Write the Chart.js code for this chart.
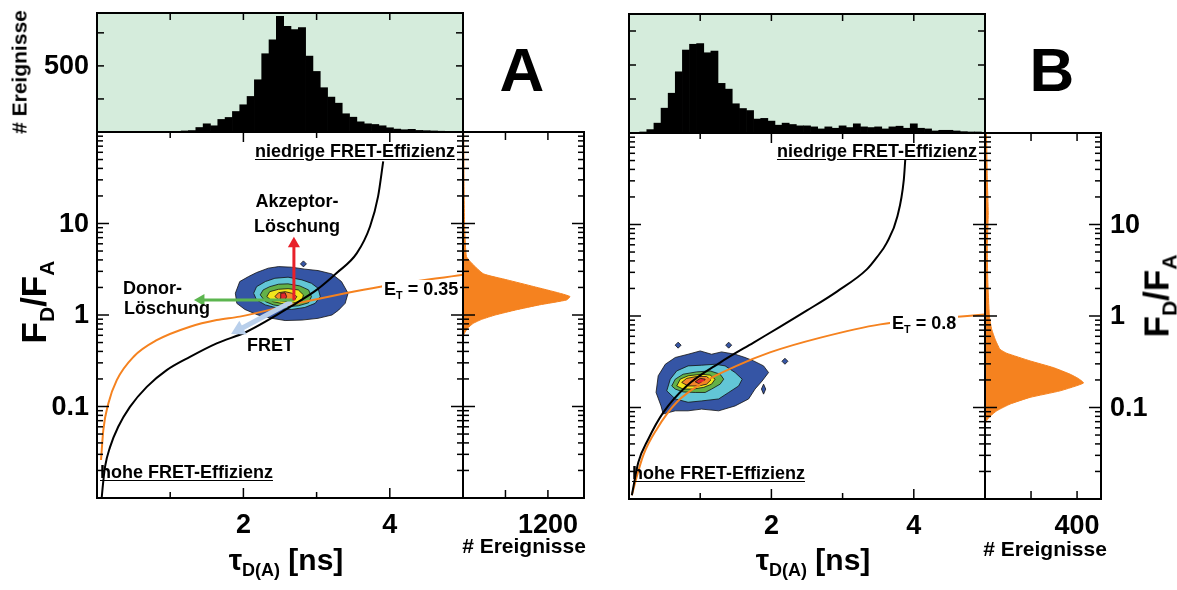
<!DOCTYPE html>
<html>
<head>
<meta charset="utf-8">
<script src="https://cdn.jsdelivr.net/npm/chart.js@4.4.1/dist/chart.umd.min.js"></script>
<style>
  html, body { margin: 0; padding: 0; background: #fff; }
  #page { position: relative; width: 1177px; height: 590px; overflow: hidden;
          font-family: "Liberation Sans", Arial, sans-serif; font-weight: bold; color: #000; }
  #page canvas { position: absolute; left: 0; top: 0; }
  .t { position: absolute; white-space: nowrap; line-height: 1; }
  .sub { font-size: 0.6em; position: relative; top: 0.38em; }
  .u { text-decoration: underline; text-underline-offset: 2px; }
  .wb { background: #fff; padding: 0 2px; }
</style>
</head>
<body>
<div id="page">
  <canvas id="topA" width="1177" height="590"></canvas>
  <canvas id="mainA" width="1177" height="590"></canvas>
  <canvas id="sideA" width="1177" height="590"></canvas>
  <canvas id="topB" width="1177" height="590"></canvas>
  <canvas id="mainB" width="1177" height="590"></canvas>
  <canvas id="sideB" width="1177" height="590"></canvas>
</div>
<script>
// ---- lifetime histograms (bin centres in ns, events per bin) ----
const tauBins = [0.0, 0.1, 0.2, 0.3, 0.4, 0.5, 0.6, 0.7, 0.8, 0.9, 1.0, 1.1, 1.2, 1.3, 1.4, 1.5, 1.6, 1.7,
  1.8, 1.9, 2.0, 2.1, 2.2, 2.3, 2.4, 2.5, 2.6, 2.7, 2.8, 2.9, 3.0, 3.1, 3.2, 3.3, 3.4, 3.5, 3.6, 3.7, 3.8,
  3.9, 4.0, 4.1, 4.2, 4.3, 4.4, 4.5, 4.6, 4.7, 4.8, 4.9, 5.0];
const tauCountsA = [0, 0, 0, 0, 0, 0, 0, 0, 0, 1, 2, 3, 8, 11, 34, 62, 47, 95, 110, 155, 206, 269, 395, 592,
  698, 875, 799, 774, 789, 574, 458, 335, 264, 218, 138, 112, 77, 62, 57, 47, 32, 22, 17, 20, 12, 10, 8, 6, 5, 4, 3];
const tauCountsB = [0, 2, 3, 10, 29, 73, 117, 180, 244, 261, 263, 236, 241, 146, 129, 86, 72, 66, 41, 43, 35,
  23, 29, 25, 21, 21, 18, 12, 18, 14, 21, 16, 27, 18, 16, 18, 12, 18, 20, 14, 27, 14, 12, 6, 8, 8, 6, 4, 3, 3, 2];

// ---- F_D/F_A histograms on the right (outline: ratio, events) ----
const ratioProfileA = [100, 100, 30, 8.6, 4.37, 3.70, 2.82, 2.42, 2.05, 1.73, 1.59, 1.46, 1.29, 1.135, 1.0,
  0.896, 0.81, 0.713, 0.618, 0.555];
const eventsProfileA = [0, 10, 14, 24, 48, 120, 288, 624, 994, 1368, 1512, 1464, 1080, 744, 456, 264, 144, 62, 14, 0];
const ratioProfileB = [100, 100, 31, 13.4, 5.8, 2.5, 1.0, 0.716, 0.557, 0.433, 0.392, 0.323, 0.273, 0.231,
  0.207, 0.185, 0.152, 0.129, 0.109, 0.092, 0.080, 0.072, 0.066];
const eventsProfileB = [0, 6, 10, 14, 10, 12, 19, 29, 44, 65, 94, 196, 297, 370, 406, 428, 326, 196, 109, 51, 22, 7, 0];

// ---- static FRET line and E_T line ----
const fretTauA = [0.064, 0.078, 0.11, 0.178, 0.29, 0.45, 0.68, 0.952, 1.27, 1.635, 2.045, 2.73, 3.0, 3.27, 3.55, 3.73, 3.84, 3.91];
const fretRatioA = [0.01, 0.0132, 0.022, 0.036, 0.060, 0.099, 0.164, 0.25, 0.349, 0.49, 0.656, 1.36, 1.88, 2.86, 4.74, 9.27, 19.8, 47.8];
const etTauA = [0.055, 0.086, 0.155, 0.27, 0.50, 0.815, 1.27, 1.635, 1.95, 2.73, 3.87, 5.0];
const etRatioA = [0.026, 0.055, 0.108, 0.194, 0.35, 0.53, 0.745, 0.88, 0.96, 1.34, 2.04, 2.76];
const fretTauB = [0.04, 0.13, 0.27, 0.48, 0.81, 1.28, 1.75, 2.12, 2.5, 2.92, 3.34, 3.48, 3.62, 3.77, 3.86, 3.88];
const fretRatioB = [0.011, 0.025, 0.045, 0.088, 0.172, 0.31, 0.513, 0.76, 1.15, 1.85, 3.23, 4.37, 6.3, 12.3, 31, 51];
const etTauB = [0.04, 0.085, 0.20, 0.39, 0.67, 1.045, 1.51, 1.98, 2.69, 3.53, 5.0];
const etRatioB = [0.011, 0.015, 0.030, 0.058, 0.114, 0.188, 0.285, 0.40, 0.58, 0.81, 1.04];

// ---- contour levels [tau, ratio], outer to inner ----
const contour1A = [[1.89, 1.73], [1.95, 2.32], [2.07, 2.63], [2.18, 2.91], [2.34, 3.25], [2.48, 3.38], [2.66, 3.33],
  [2.84, 3.17], [3.02, 3.06], [3.21, 2.81], [3.34, 2.32], [3.43, 1.73], [3.39, 1.34], [3.30, 1.13], [3.21, 1.0],
  [3.02, 0.92], [2.80, 0.88], [2.57, 0.87], [2.39, 0.92], [2.20, 1.0], [2.02, 1.15], [1.91, 1.34]];
const contour2A = [[2.14, 1.73], [2.18, 2.04], [2.30, 2.32], [2.43, 2.52], [2.61, 2.59], [2.80, 2.42], [2.93, 2.22],
  [3.02, 1.96], [3.05, 1.59], [2.98, 1.34], [2.84, 1.21], [2.66, 1.15], [2.48, 1.18], [2.30, 1.29], [2.18, 1.46]];
const contour3A = [[2.23, 1.66], [2.27, 1.88], [2.36, 2.04], [2.48, 2.17], [2.61, 2.19], [2.77, 2.08], [2.89, 1.88],
  [2.93, 1.59], [2.89, 1.36], [2.75, 1.26], [2.57, 1.23], [2.41, 1.29], [2.30, 1.40]];
const contour4A = [[2.32, 1.59], [2.36, 1.80], [2.48, 1.91], [2.61, 1.94], [2.75, 1.88], [2.82, 1.66], [2.80, 1.43],
  [2.66, 1.34], [2.52, 1.34], [2.40, 1.40]];
const contour5A = [[2.43, 1.59], [2.48, 1.75], [2.57, 1.80], [2.66, 1.73], [2.73, 1.59], [2.70, 1.46], [2.61, 1.40], [2.50, 1.43]];
const contour6A = [[2.50, 1.52], [2.51, 1.73], [2.57, 1.75], [2.59, 1.59], [2.57, 1.46], [2.52, 1.46]];
const islandsA = [[2.82, 3.62]];

const contour1B = [[0.38, 0.146], [0.41, 0.222], [0.51, 0.297], [0.65, 0.352], [0.83, 0.382], [1.00, 0.415],
  [1.16, 0.382], [1.30, 0.405], [1.49, 0.382], [1.63, 0.352], [1.75, 0.323], [1.89, 0.285], [1.96, 0.241],
  [1.87, 0.195], [1.77, 0.159], [1.68, 0.124], [1.49, 0.104], [1.26, 0.092], [1.02, 0.096], [0.83, 0.092],
  [0.65, 0.092], [0.48, 0.085], [0.45, 0.104]];
const contour2B = [[0.53, 0.152], [0.58, 0.204], [0.67, 0.251], [0.83, 0.285], [1.02, 0.29], [1.21, 0.297],
  [1.35, 0.285], [1.49, 0.241], [1.59, 0.204], [1.54, 0.172], [1.40, 0.146], [1.26, 0.124], [1.02, 0.118],
  [0.83, 0.114], [0.65, 0.124]];
const contour3B = [[0.60, 0.172], [0.65, 0.204], [0.76, 0.231], [0.95, 0.245], [1.14, 0.251], [1.28, 0.231],
  [1.33, 0.204], [1.28, 0.18], [1.16, 0.159], [1.07, 0.146], [0.93, 0.146], [0.76, 0.148], [0.65, 0.159]];
const contour4B = [[0.67, 0.172], [0.72, 0.204], [0.83, 0.222], [1.02, 0.231], [1.14, 0.226], [1.21, 0.204],
  [1.16, 0.18], [1.05, 0.166], [0.90, 0.159], [0.76, 0.159]];
const contour5B = [[0.74, 0.188], [0.81, 0.208], [0.95, 0.218], [1.09, 0.218], [1.15, 0.2], [1.09, 0.18], [0.98, 0.172], [0.83, 0.172]];
const contour6B = [[0.93, 0.191], [1.00, 0.208], [1.07, 0.204], [1.05, 0.188], [0.98, 0.183]];
const spotB = [[1.89, 0.180], [1.92, 0.159], [1.89, 0.140], [1.86, 0.159]];
const islandsB = [[0.69, 0.48], [1.40, 0.48], [2.19, 0.32]];

// ---- arrows in panel A: [start, head] ----
const arrowAcceptor = [[2.69, 1.45], [2.69, 6.0]];
const arrowDonor = [[2.69, 1.46], [1.42, 1.46]];
const arrowFret = [[2.66, 1.40], [1.94, 0.69]];

// ---- ticks ----
const tauTicks = [1, 2, 3, 4];
const tauTickLabels = ['', '2', '', '4'];
const ratioMajor = [0.1, 1, 10];
const ratioTickLabels = ['0.1', '1', '10'];
const ratioMinor = [0.02, 0.03, 0.04, 0.05, 0.06, 0.07, 0.08, 0.09, 0.2, 0.3, 0.4, 0.5, 0.6, 0.7, 0.8, 0.9,
  2, 3, 4, 5, 6, 7, 8, 9, 20, 30, 40, 50, 60, 70, 80, 90];
const countTicksA = [250, 500, 750];
const countTickLabelsA = ['', '500', ''];
const countTicksB = [100, 200, 300];
const sideTicksA = [600, 1200];
const sideTickLabelsA = ['', '1200'];
const sideTicksB = [200, 400];
const sideTickLabelsB = ['', '400'];

const W = 1177, H = 590;
const TICK_FONT = 'bold 27px "Liberation Sans", Arial, sans-serif';
const contourColors = ['#3555a5', '#62c6d6', '#63b148', '#f2e61c', '#f4862a', '#e3262c'];

const pairs = arr => arr.map(([x, y]) => ({x, y}));
const zip = (xs, ys) => xs.map((x, i) => ({x, y: ys[i]}));

// box frame, inward ticks and tick labels
const framePlugin = {
  id: 'frame',
  beforeDatasetsDraw(chart, args, opts) {
    if (!opts.background) return;
    const a = chart.chartArea;
    chart.ctx.save();
    chart.ctx.fillStyle = opts.background;
    chart.ctx.fillRect(a.left, a.top, a.width, a.height);
    chart.ctx.restore();
  },
  afterDraw(chart, args, opts) {
    const {ctx, chartArea: a} = chart;
    ctx.save();
    ctx.strokeStyle = '#000';
    ctx.fillStyle = '#000';
    ctx.font = TICK_FONT;
    (opts.ticks || []).forEach(t => {
      const scale = chart.scales[t.axis];
      ctx.lineWidth = 1.5;
      t.values.forEach((v, i) => {
        const p = scale.getPixelForValue(v);
        const len = Array.isArray(t.len) ? t.len[i] : t.len;
        t.sides.forEach(side => {
          ctx.beginPath();
          if (side === 'bottom') { ctx.moveTo(p, a.bottom); ctx.lineTo(p, a.bottom - len); }
          if (side === 'top') { ctx.moveTo(p, a.top); ctx.lineTo(p, a.top + len); }
          if (side === 'left') { ctx.moveTo(a.left, p); ctx.lineTo(a.left + len, p); }
          if (side === 'right') { ctx.moveTo(a.right, p); ctx.lineTo(a.right - len, p); }
          ctx.stroke();
        });
        const text = t.labels && t.labels[i];
        if (!text) return;
        if (t.at === 'bottom') {
          ctx.textAlign = 'center'; ctx.textBaseline = 'alphabetic';
          ctx.fillText(text, p, a.bottom + 35);
        } else if (t.at === 'left') {
          ctx.textAlign = 'right'; ctx.textBaseline = 'middle';
          ctx.fillText(text, a.left - 8, p + 1);
        } else if (t.at === 'right') {
          ctx.textAlign = 'left'; ctx.textBaseline = 'middle';
          ctx.fillText(text, a.right + 9, p + 1);
        }
      });
    });
    ctx.lineWidth = 2;
    ctx.strokeRect(a.left, a.top, a.width, a.height);
    ctx.restore();
  }
};

function makeChart(id, box, type, datasets, scales, frame) {
  return new Chart(document.getElementById(id), {
    type: type,
    data: {datasets: datasets},
    options: {
      responsive: false,
      animation: false,
      devicePixelRatio: 1,
      events: [],
      layout: {padding: {left: box[0], top: box[1], right: W - box[2], bottom: H - box[3]}},
      scales: scales,
      plugins: {legend: {display: false}, tooltip: {enabled: false}, frame: frame}
    },
    plugins: [framePlugin]
  });
}

function histBars(counts) {
  return {data: zip(tauBins, counts), backgroundColor: '#000', borderWidth: 0, barPercentage: 1, categoryPercentage: 1};
}

function contour(points, color, order) {
  const d = pairs(points);
  d.push(d[0]);
  return {data: d, showLine: true, fill: 'shape', backgroundColor: color, borderColor: '#111',
    borderWidth: 0.8, pointRadius: 0, tension: 0, order: order};
}

function curve(xs, ys, color, order) {
  return {data: zip(xs, ys), showLine: true, borderColor: color, borderWidth: 2, pointRadius: 0,
    cubicInterpolationMode: 'monotone', fill: false, order: order};
}

function arrow(points, color, width, head, rot, order) {
  return {data: pairs(points), showLine: true, borderColor: color, borderWidth: width,
    pointRadius: [0, head], pointStyle: 'triangle', pointRotation: [0, rot],
    pointBackgroundColor: color, pointBorderColor: color, pointBorderWidth: 0, order: order};
}

function islands(points, order) {
  return {data: pairs(points), showLine: false, pointStyle: 'rectRot', pointRadius: 3,
    pointBackgroundColor: contourColors[0], pointBorderColor: '#111', pointBorderWidth: 0.8, order: order};
}

function sideProfile(events, ratios) {
  const d = zip(events, ratios);
  d.push(d[0]);
  return {data: d, showLine: true, fill: 'shape', backgroundColor: '#f5821f', borderColor: '#f5821f',
    borderWidth: 1, pointRadius: 0, tension: 0.15};
}

const tauScale = {type: 'linear', min: 0, max: 5, offset: false, display: false};
const ratioScale = {type: 'logarithmic', min: 0.01, max: 100, display: false};

function ratioTicks(labelSide) {
  return [
    {axis: 'y', values: ratioMajor, len: 12, sides: ['left', 'right'], labels: labelSide ? ratioTickLabels : null, at: labelSide},
    {axis: 'y', values: ratioMinor, len: 6, sides: ['left', 'right']}
  ];
}

// ---------- panel A ----------
makeChart('topA', [97, 13, 463, 132], 'bar', [histBars(tauCountsA)],
  {x: tauScale, y: {type: 'linear', min: 0, max: 900, display: false}},
  {background: '#d5ecdc', ticks: [
    {axis: 'x', values: tauTicks, len: 7, sides: ['top']},
    {axis: 'y', values: countTicksA, len: 7, sides: ['left', 'right'], labels: countTickLabelsA, at: 'left'}
  ]});

makeChart('mainA', [97, 132, 463, 498], 'scatter', [
  arrow(arrowAcceptor, '#e8202a', 3, 7, 0, 0),
  arrow(arrowDonor, '#5cb54f', 3, 7, 270, 1),
  arrow(arrowFret, '#b9cfeb', 5, 9, 242, 2),
  curve(fretTauA, fretRatioA, '#000', 3),
  curve(etTauA, etRatioA, '#f5821f', 4),
  islands(islandsA, 5),
  contour(contour6A, contourColors[5], 6),
  contour(contour5A, contourColors[4], 7),
  contour(contour4A, contourColors[3], 8),
  contour(contour3A, contourColors[2], 9),
  contour(contour2A, contourColors[1], 10),
  contour(contour1A, contourColors[0], 11)
], {x: tauScale, y: ratioScale},
  {ticks: [
    {axis: 'x', values: tauTicks, len: [6, 10, 6, 10], sides: ['bottom', 'top'], labels: tauTickLabels, at: 'bottom'}
  ].concat(ratioTicks('left'))});

makeChart('sideA', [463, 132, 584, 498], 'scatter', [sideProfile(eventsProfileA, ratioProfileA)],
  {x: {type: 'linear', min: 0, max: 1710, display: false}, y: ratioScale},
  {ticks: [
    {axis: 'x', values: sideTicksA, len: 8, sides: ['bottom', 'top'], labels: sideTickLabelsA, at: 'bottom'}
  ].concat(ratioTicks(null))});

// ---------- panel B ----------
makeChart('topB', [629, 14, 985, 133], 'bar', [histBars(tauCountsB)],
  {x: tauScale, y: {type: 'linear', min: 0, max: 350, display: false}},
  {background: '#d5ecdc', ticks: [
    {axis: 'x', values: tauTicks, len: 7, sides: ['top']},
    {axis: 'y', values: countTicksB, len: 7, sides: ['left', 'right']}
  ]});

makeChart('mainB', [629, 133, 985, 499], 'scatter', [
  curve(fretTauB, fretRatioB, '#000', 3),
  curve(etTauB, etRatioB, '#f5821f', 4),
  islands(islandsB, 5),
  contour(spotB, contourColors[0], 5),
  contour(contour6B, contourColors[5], 6),
  contour(contour5B, contourColors[4], 7),
  contour(contour4B, contourColors[3], 8),
  contour(contour3B, contourColors[2], 9),
  contour(contour2B, contourColors[1], 10),
  contour(contour1B, contourColors[0], 11)
], {x: tauScale, y: ratioScale},
  {ticks: [
    {axis: 'x', values: tauTicks, len: [6, 10, 6, 10], sides: ['bottom', 'top'], labels: tauTickLabels, at: 'bottom'}
  ].concat(ratioTicks(null))});

makeChart('sideB', [985, 133, 1101, 499], 'scatter', [sideProfile(eventsProfileB, ratioProfileB)],
  {x: {type: 'linear', min: 0, max: 504, display: false}, y: ratioScale},
  {ticks: [
    {axis: 'x', values: sideTicksB, len: 8, sides: ['bottom', 'top'], labels: sideTickLabelsB, at: 'bottom'}
  ].concat(ratioTicks('right'))});

// ---------- text ----------
const page = document.getElementById('page');
function addText(html, x, baseline, size, align, cls) {
  const d = document.createElement('div');
  d.className = 't' + (cls ? ' ' + cls : '');
  d.innerHTML = html;
  d.style.fontSize = size + 'px';
  d.style.left = x + 'px';
  d.style.top = (baseline - 0.85 * size) + 'px';
  if (align === 'center') d.style.transform = 'translateX(-50%)';
  if (align === 'right') d.style.transform = 'translateX(-100%)';
  page.appendChild(d);
}
function addRotated(html, cx, cy, size) {
  const d = document.createElement('div');
  d.className = 't';
  d.innerHTML = html;
  d.style.fontSize = size + 'px';
  d.style.left = cx + 'px';
  d.style.top = cy + 'px';
  d.style.transform = 'translate(-50%, -50%) rotate(-90deg)';
  page.appendChild(d);
}

const ratioTitle = 'F<span class="sub">D</span>/F<span class="sub">A</span>';
const tauTitle = '&tau;<span class="sub">D(A)</span> [ns]';

addRotated('# Ereignisse', 19, 72, 21);
addRotated(ratioTitle, 33, 302, 35);
addText(tauTitle, 286, 570, 30, 'center');
addText('# Ereignisse', 524, 553, 21, 'center');
addText('A', 522, 92, 62, 'center');
addText('niedrige FRET-Effizienz', 455, 157, 18, 'right', 'u');
addText('hohe FRET-Effizienz', 100, 478, 18, 'left', 'u');
addText('Akzeptor-', 297, 207, 18, 'center');
addText('Löschung', 297, 232, 18, 'center');
addText('Donor-', 123, 294, 18, 'left');
addText('Löschung', 124, 314, 18, 'left');
addText('FRET', 247, 351, 18, 'left');
addText('E<span class="sub">T</span> = 0.35', 382, 295, 18, 'left', 'wb');

addRotated(ratioTitle, 1156, 296, 35);
addText(tauTitle, 813, 570, 30, 'center');
addText('# Ereignisse', 1045, 556, 21, 'center');
addText('B', 1052, 92, 62, 'center');
addText('niedrige FRET-Effizienz', 977, 157, 18, 'right', 'u');
addText('hohe FRET-Effizienz', 632, 479, 18, 'left', 'u');
addText('E<span class="sub">T</span> = 0.8', 890, 329, 18, 'left', 'wb');
</script>
</body>
</html>
